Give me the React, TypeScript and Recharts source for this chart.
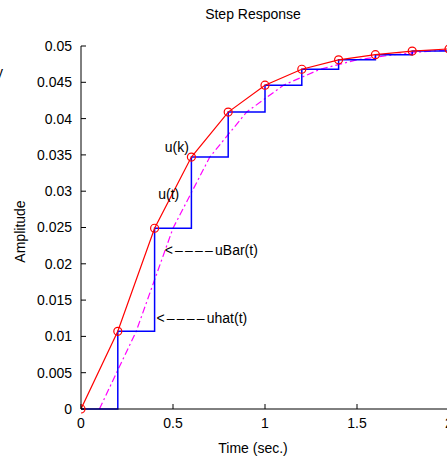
import { LineChart, Line, XAxis, YAxis, ReferenceDot } from 'recharts';

// sample instants (sec.) and sampled step response u(k)
const sampleTimes = [0, 0.2, 0.4, 0.6, 0.8, 1.0, 1.2, 1.4, 1.6, 1.8, 2.0];
const sampleValues = [0, 0.0107, 0.0249, 0.0347, 0.0409, 0.0446, 0.0468, 0.0481, 0.0488, 0.0493, 0.0496];

// uBar(t) is the same curve delayed by half a sample
const barTimes = [0.1, 0.3, 0.5, 0.7, 0.9, 1.1, 1.3, 1.5, 1.7, 1.9, 2.1];

const xTicks = [0, 0.5, 1, 1.5, 2];
const yTicks = [0, 0.005, 0.01, 0.015, 0.02, 0.025, 0.03, 0.035, 0.04, 0.045, 0.05];
const yTickLabels = ['0', '0.005', '0.01', '0.015', '0.02', '0.025', '0.03', '0.035', '0.04', '0.045', '0.05'];

// text notes: arrow part is drawn with wider spacing like the original
const notes = [
  { t: 0.455, v: 0.0361, arrow: '', text: 'u(k)' },
  { t: 0.42, v: 0.0296, arrow: '', text: 'u(t)' },
  { t: 0.455, v: 0.0219, arrow: '<––––', text: 'uBar(t)' },
  { t: 0.41, v: 0.0125, arrow: '<––––', text: 'uhat(t)' },
];

const uk = sampleTimes.map((t, i) => ({ t, v: sampleValues[i] }));
const ubar = barTimes.map((t, i) => ({ t, v: sampleValues[i] }));

const font = '"Liberation Sans", Arial, Helvetica, sans-serif';
const tickStyle = { fill: '#000', fontSize: 14, fontFamily: font };

export default function App() {
  return (
    <div
      style={{
        position: 'fixed',
        left: 0,
        top: 0,
        width: 447,
        height: 459,
        overflow: 'hidden',
        background: '#fff',
        fontFamily: font,
      }}
    >
      <div style={{ position: 'absolute', left: 0, width: 506, top: 6, textAlign: 'center', fontSize: 14 }}>
        Step Response
      </div>
      <div style={{ position: 'absolute', left: -4, top: 64, fontSize: 14 }}>y</div>

      <LineChart
        width={480}
        height={459}
        margin={{ top: 46, right: 31, bottom: 0, left: 0 }}
        style={{ position: 'absolute', left: 0, top: 0 }}
      >
        <XAxis
          dataKey="t"
          type="number"
          domain={[0, 2]}
          ticks={xTicks}
          allowDataOverflow
          height={50}
          tickSize={-5}
          tickMargin={14}
          stroke="#000"
          tick={tickStyle}
          label={{ value: 'Time (sec.)', position: 'insideBottom', offset: 6, dx: -12, fill: '#000', fontSize: 14, fontFamily: font }}
        />
        <XAxis
          xAxisId="top"
          orientation="top"
          dataKey="t"
          type="number"
          domain={[0, 2]}
          ticks={xTicks}
          height={0}
          tickSize={-5}
          stroke="#000"
          tickFormatter={() => ''}
        />
        <YAxis
          type="number"
          domain={[0, 0.05]}
          ticks={yTicks}
          width={81}
          tickSize={-5}
          tickMargin={14}
          stroke="#000"
          tick={tickStyle}
          tickFormatter={(v: number) => yTickLabels[yTicks.indexOf(v)] ?? String(v)}
          label={{
            value: 'Amplitude',
            angle: -90,
            position: 'insideLeft',
            offset: 20,
            dy: 4,
            fill: '#000',
            fontSize: 14,
            fontFamily: font,
            style: { textAnchor: 'middle' },
          }}
        />
        <YAxis
          yAxisId="right"
          orientation="right"
          type="number"
          domain={[0, 0.05]}
          ticks={yTicks}
          width={0}
          tickSize={-5}
          stroke="#000"
          tickFormatter={() => ''}
        />

        <Line
          data={ubar}
          dataKey="v"
          type="linear"
          stroke="#ff00ff"
          strokeWidth={1.2}
          strokeDasharray="7 3 2 3"
          dot={false}
          isAnimationActive={false}
        />
        <Line
          data={uk}
          dataKey="v"
          type="stepAfter"
          stroke="#0000ff"
          strokeWidth={1.5}
          dot={false}
          isAnimationActive={false}
        />
        <Line
          data={uk}
          dataKey="v"
          type="linear"
          stroke="#ff0000"
          strokeWidth={1.2}
          dot={{ r: 4, stroke: '#ff0000', strokeWidth: 1.2, fill: 'none' }}
          isAnimationActive={false}
        />

        {notes.map((n) => (
          <ReferenceDot
            key={n.text}
            x={n.t}
            y={n.v}
            r={0}
            shape={(p: any) => (
              <text x={p.cx} y={p.cy} dy="0.36em" fill="#000" fontSize={14} fontFamily={font}>
                {n.arrow ? <tspan letterSpacing={2.2}>{n.arrow}</tspan> : null}
                <tspan>{n.text}</tspan>
              </text>
            )}
          />
        ))}
      </LineChart>
    </div>
  );
}
